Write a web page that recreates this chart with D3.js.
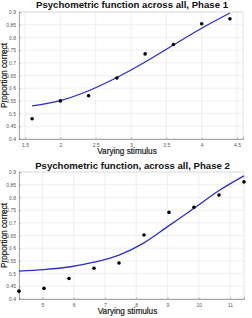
<!DOCTYPE html>
<html>
<head>
<meta charset="utf-8">
<script src="https://cdn.jsdelivr.net/npm/d3@7"></script>
<style>
  body { margin: 0; background: #fff; }
  svg { display: block; }
  text { font-family: "Liberation Sans", Arial, sans-serif; }
</style>
</head>
<body>
<svg id="chart" width="252" height="318"></svg>
<script>
// Phase 1 data
const phase1X = [1.6, 2.0, 2.4, 2.8, 3.2, 3.6, 4.0, 4.4];
const phase1Y = [0.48, 0.55, 0.57, 0.64, 0.735, 0.772, 0.854, 0.873];
const phase1FitX = [1.6, 2.0, 2.4, 2.8, 3.2, 3.6, 4.0, 4.4];
const phase1FitY = [0.53, 0.551, 0.59, 0.642, 0.703, 0.77, 0.836, 0.896];
const phase1XTicks = [1.5, 2, 2.5, 3, 3.5, 4, 4.5];

// Phase 2 data
const phase2X = [4.25, 5.05, 5.85, 6.65, 7.45, 8.25, 9.05, 9.85, 10.65, 11.45];
const phase2Y = [0.431, 0.442, 0.481, 0.521, 0.542, 0.652, 0.741, 0.761, 0.809, 0.861];
const phase2FitX = [4.25, 5.05, 5.85, 6.65, 7.45, 8.25, 9.05, 9.85, 10.65, 11.45];
const phase2FitY = [0.51, 0.516, 0.526, 0.545, 0.573, 0.621, 0.689, 0.757, 0.827, 0.885];
const phase2XTicks = [5, 6, 7, 8, 9, 10, 11];

const yTicks = [0.4, 0.45, 0.5, 0.55, 0.6, 0.65, 0.7, 0.75, 0.8, 0.85, 0.9];

const svg = d3.select("#chart");

function drawPanel(opts) {
  const { title, xs, ys, fitX, fitY, xTicks, xDomain, box, titleY } = opts;
  const x = d3.scaleLinear().domain(xDomain).range([box.left, box.right]);
  const y = d3.scaleLinear().domain([0.4, 0.9]).range([box.bottom, box.top]);
  const g = svg.append("g");

  // grid
  g.append("g").selectAll("line.gx").data(xTicks).enter().append("line")
    .attr("x1", d => x(d)).attr("x2", d => x(d))
    .attr("y1", box.top).attr("y2", box.bottom)
    .attr("stroke", "#e6e6e6").attr("stroke-width", 0.6);
  g.append("g").selectAll("line.gy").data(yTicks).enter().append("line")
    .attr("x1", box.left).attr("x2", box.right)
    .attr("y1", d => y(d)).attr("y2", d => y(d))
    .attr("stroke", "#e6e6e6").attr("stroke-width", 0.6);

  // box
  g.append("rect")
    .attr("x", box.left).attr("y", box.top)
    .attr("width", box.right - box.left).attr("height", box.bottom - box.top)
    .attr("fill", "none").attr("stroke", "#d0d0d0").attr("stroke-width", 0.6);

  // axes
  const xAxis = d3.axisBottom(x).tickValues(xTicks).tickSize(-2).tickPadding(4)
    .tickFormat(d3.format("~g"));
  const yAxis = d3.axisLeft(y).tickValues(yTicks).tickSize(-2).tickPadding(3)
    .tickFormat(d3.format("~g"));
  const gx = g.append("g").attr("transform", `translate(0,${box.bottom})`).call(xAxis);
  const gy = g.append("g").attr("transform", `translate(${box.left},0)`).call(yAxis);
  [gx, gy].forEach(a => {
    a.select(".domain").attr("stroke", "#8a8a8a").attr("stroke-width", 0.7);
    a.selectAll(".tick line").attr("stroke", "#8a8a8a").attr("stroke-width", 0.5);
    a.selectAll(".tick text").attr("fill", "#555").style("font-size", "5px");
  });

  // fitted curve
  const fit = fitX.map((v, i) => [v, fitY[i]]);
  g.append("path")
    .datum(fit)
    .attr("fill", "none")
    .attr("stroke", "#2b2bd0")
    .attr("stroke-width", 1.3)
    .attr("d", d3.line().x(d => x(d[0])).y(d => y(d[1])).curve(d3.curveMonotoneX));

  // points
  g.append("g").selectAll("circle").data(xs.map((v, i) => [v, ys[i]])).enter()
    .append("circle")
    .attr("cx", d => x(d[0])).attr("cy", d => y(d[1]))
    .attr("r", 1.8).attr("fill", "#000");

  // title
  svg.append("text")
    .attr("x", (box.left + box.right) / 2 + 1).attr("y", titleY)
    .attr("text-anchor", "middle")
    .style("font-size", "9.6px").style("font-weight", "bold")
    .attr("fill", "#111")
    .text(title);

  // x label
  svg.append("text")
    .attr("x", (box.left + box.right) / 2 - 4).attr("y", box.bottom + 15)
    .attr("text-anchor", "middle")
    .style("font-size", "8.2px")
    .attr("fill", "#1a1a1a")
    .attr("stroke", "#1a1a1a").attr("stroke-width", 0.2)
    .text("Varying stimulus");

  // y label
  svg.append("text")
    .attr("transform", `translate(7,${(box.top + box.bottom) / 2}) rotate(-90)`)
    .attr("text-anchor", "middle")
    .style("font-size", "8.2px")
    .attr("fill", "#1a1a1a")
    .attr("stroke", "#1a1a1a").attr("stroke-width", 0.2)
    .text("Proportion correct");
}

drawPanel({
  title: "Psychometric function across all, Phase 1",
  xs: phase1X, ys: phase1Y, fitX: phase1FitX, fitY: phase1FitY,
  xTicks: phase1XTicks, xDomain: [1.415, 4.585],
  box: { left: 19, right: 243, top: 12, bottom: 139 },
  titleY: 8
});

drawPanel({
  title: "Psychometric function, across all, Phase 2",
  xs: phase2X, ys: phase2Y, fitX: phase2FitX, fitY: phase2FitY,
  xTicks: phase2XTicks, xDomain: [4.25, 11.45],
  box: { left: 19, right: 244, top: 172, bottom: 299 },
  titleY: 168.5
});
</script>
</body>
</html>
